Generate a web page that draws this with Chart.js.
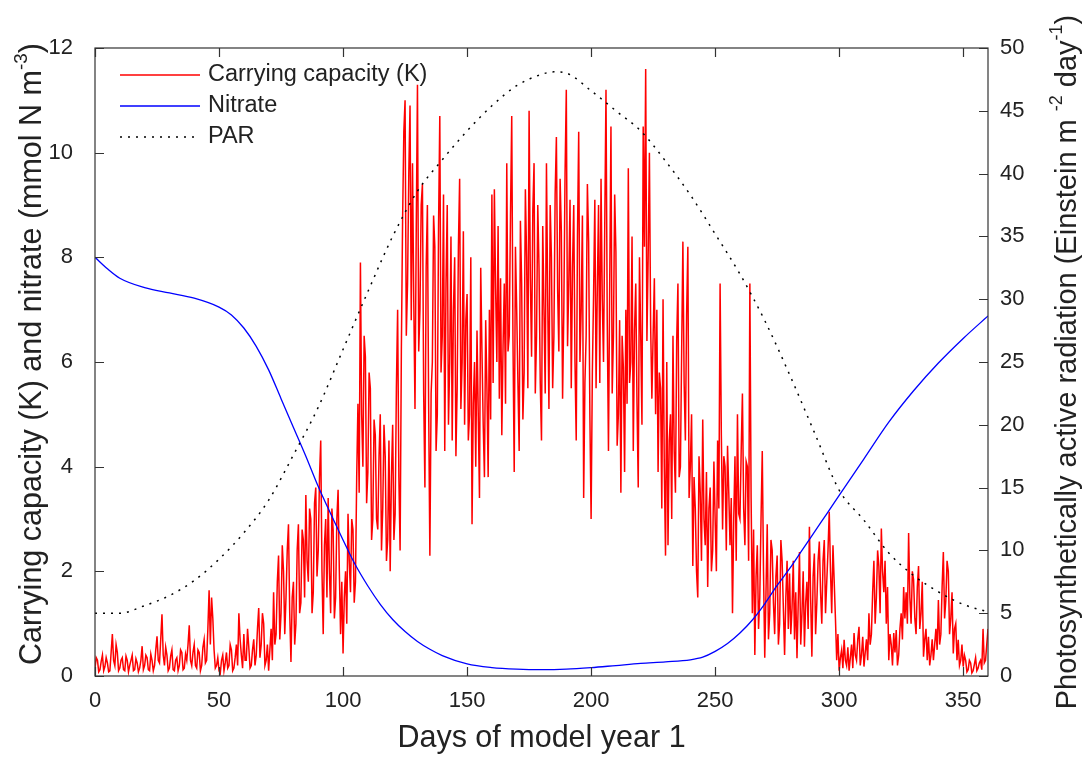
<!DOCTYPE html>
<html>
<head>
<meta charset="utf-8">
<script src="https://cdn.jsdelivr.net/npm/chart.js@4/dist/chart.umd.min.js"></script>
<style>
  html, body { margin:0; padding:0; background:#fff; }
  canvas { display:block; }
</style>
</head>
<body>
<canvas id="c" width="1084" height="757"></canvas>
<script>
'use strict';

// Carrying capacity K (mmol N m-3) at whole days 0..360
const kValues = [
  0.15,0.3,0.12,0.4,0.18,0.25,0.1,0.8,0.2,0.45,0.15,0.35,0.1,0.3,0.2,0.4,0.12,0.25,0.15,0.57,
  0.2,0.35,0.1,0.3,0.2,0.76,0.25,1.18,0.2,0.4,0.15,0.5,0.1,0.35,0.2,0.45,0.15,0.3,0.97,0.2,
  0.6,0.15,0.45,0.2,0.7,0.3,1.64,1.5,0.5,0.2,0.1,0.3,0.1,0.45,0.2,0.5,0.15,0.6,1.2,0.4,
  0.8,0.3,0.55,0.2,0.7,0.4,1.3,0.6,1.0,0.3,0.1,0.9,1.6,0.8,2.3,1.2,2.0,1.5,2.9,0.27,
  1.8,1.0,2.9,1.4,2.6,3.46,1.8,3.0,1.6,3.6,2.4,4.5,0.8,3.0,3.4,1.2,2.8,1.5,3.56,0.8,
  0.43,2.0,3.1,1.6,2.8,1.8,5.2,7.9,4.0,6.1,3.9,5.5,3.0,4.6,2.8,5.0,3.2,4.2,2.6,2.0,
  4.8,3.1,7.0,2.4,8.7,11.0,7.5,10.9,9.8,5.1,11.3,7.0,9.4,3.6,9.0,2.3,6.0,8.2,5.0,10.7,
  6.5,4.3,9.0,6.0,4.5,8.0,5.5,9.5,6.0,4.8,7.3,5.0,2.9,6.0,6.6,3.4,6.2,3.8,5.5,7.0,
  9.2,9.3,6.0,5.3,4.6,7.5,9.8,6.5,10.7,3.9,7.0,4.3,7.5,5.8,8.0,10.8,6.1,9.8,6.5,7.8,
  4.5,7.0,9.8,5.1,8.0,6.5,10.3,6.2,8.5,7.0,11.2,7.5,5.5,9.0,4.5,10.4,7.0,3.4,6.5,8.3,
  3.0,7.3,5.5,9.0,9.5,6.0,11.2,4.3,10.5,6.5,8.1,5.0,3.5,5.9,7.0,9.7,6.0,4.3,7.5,3.6,
  6.5,10.5,11.6,8.0,6.7,6.5,5.0,3.9,5.5,7.2,2.3,2.5,5.0,6.5,3.5,7.5,4.0,8.3,4.5,8.2,
  4.0,2.1,3.2,1.5,3.5,4.9,2.5,1.7,3.6,2.4,3.0,4.5,7.5,2.8,4.0,4.4,2.5,1.2,4.2,5.0,
  3.0,5.4,2.5,4.0,7.5,1.2,0.4,2.5,1.5,4.3,0.35,2.9,1.2,2.4,0.8,2.3,1.0,2.2,0.4,2.2,
  1.96,1.3,0.7,0.34,2.37,1.2,0.56,1.8,2.85,0.37,2.34,1.4,2.57,1.0,2.6,1.8,3.14,1.2,1.8,0.3,
  0.1,0.5,0.69,0.2,0.1,0.6,0.82,0.3,0.94,0.4,0.18,0.7,1.2,0.8,2.2,1.5,2.1,2.82,1.6,1.0,
  0.3,0.6,0.82,0.88,0.4,1.2,1.7,1.6,2.73,1.0,1.84,0.8,2.1,1.2,0.37,0.9,0.75,0.4,0.3,0.9,
  1.45,0.8,2.37,1.45,2.0,1.1,0.43,1.0,0.69,0.3,0.18,0.3,0.12,0.25,0.1,0.35,0.15,0.3,0.9,0.3,
  0.9
];
// K at half days 0.5..359.5
const kHalfValues = [
  0.35,0.08,0.28,0.1,0.35,0.08,0.45,0.3,0.6,0.1,0.3,0.12,0.38,0.08,0.3,0.1,0.33,0.08,0.3,0.12,
  0.4,0.12,0.42,0.1,0.5,0.3,0.7,0.4,0.55,0.1,0.38,0.12,0.3,0.1,0.5,0.12,0.42,0.6,0.3,0.45,
  0.2,0.5,0.1,0.55,0.25,0.9,0.6,1.1,0.15,0.35,0.05,0.4,0.25,0.15,0.6,0.1,0.35,0.2,0.7,0.15,
  0.3,0.9,0.15,0.5,0.2,0.9,0.35,1.2,0.2,0.6,0.5,0.3,0.6,1.8,0.7,2.5,0.8,2.4,1.2,1.5,
  0.6,2.4,1.2,2.8,1.5,2.2,3.2,1.2,3.3,1.9,3.8,2.0,2.5,1.5,2.0,3.2,1.1,3.0,2.0,1.8,
  1.5,1.0,2.2,3.0,1.4,3.8,3.5,5.0,6.5,3.3,5.8,2.6,4.9,3.0,4.2,2.4,4.8,2.2,4.5,3.8,
  2.6,5.5,3.8,6.2,10.4,6.5,9.6,6.8,7.2,8.5,6.2,9.0,5.4,7.8,5.2,5.4,8.8,4.3,8.6,5.8,
  9.2,7.5,4.8,8.4,7.0,4.2,8.2,5.1,8.5,6.8,4.5,8.0,5.2,4.0,5.0,7.8,4.8,6.8,3.8,4.9,
  5.6,7.4,8.6,7.6,6.3,5.2,6.2,8.8,6.4,8.2,5.6,8.7,4.9,9.3,5.5,7.6,8.9,5.4,9.0,5.6,
  8.6,5.4,7.2,9.0,5.5,9.2,7.4,9.5,5.3,9.6,6.3,9.1,7.8,6.0,8.4,6.0,8.8,5.6,9.4,5.0,
  5.8,9.1,7.4,5.6,7.2,8.6,6.8,7.5,5.4,9.2,4.4,6.8,6.5,3.9,5.2,5.6,8.4,6.6,5.2,8.0,
  4.8,8.2,6.4,10.0,5.3,7.6,7.0,5.8,3.2,4.0,6.0,4.5,3.0,4.3,6.4,3.8,6.2,5.6,6.9,3.4,
  5.0,3.8,2.0,4.2,2.2,3.0,3.9,3.2,2.0,4.1,2.0,3.2,4.6,4.2,2.4,3.5,3.4,3.0,2.2,3.1,
  4.3,3.2,4.1,2.2,3.4,2.8,1.9,0.9,3.0,2.0,1.6,0.7,2.6,1.4,1.9,0.6,2.6,1.3,1.5,0.9,
  0.8,2.2,1.6,1.4,0.6,2.0,1.4,0.9,1.5,1.9,0.8,2.2,1.6,2.2,1.2,2.4,2.0,2.5,1.1,0.8,
  0.35,0.15,0.3,0.55,0.35,0.15,0.4,0.7,0.2,0.75,0.45,0.3,0.6,1.6,1.0,2.4,1.2,2.0,2.2,1.7,
  0.8,0.2,0.45,0.2,0.9,0.7,1.1,1.0,1.5,2.0,1.1,1.7,0.9,1.8,0.7,0.3,0.2,0.7,0.6,0.5,
  0.6,1.7,1.1,2.2,0.8,1.6,0.9,0.3,0.2,0.6,0.4,0.08,0.3,0.06,0.22,0.1,0.25,0.12,0.25,0.6
];

// Nitrate (mmol N m-3)
const nitrateDays   = [0,5,10,20,30,40,50,55,60,65,70,75,80,85,90,95,100,105,110,115,120,125,130,135,140,150,160,170,180,190,200,210,220,230,240,245,250,255,260,265,270,275,280,285,290,295,300,310,320,330,340,350,360];
const nitrateValues = [8.0,7.78,7.6,7.42,7.32,7.22,7.05,6.9,6.65,6.3,5.85,5.3,4.75,4.2,3.62,3.1,2.6,2.12,1.72,1.37,1.08,0.85,0.66,0.51,0.39,0.23,0.16,0.13,0.12,0.13,0.16,0.2,0.24,0.27,0.31,0.36,0.47,0.62,0.82,1.07,1.38,1.73,2.05,2.4,2.75,3.1,3.45,4.15,4.85,5.45,5.98,6.45,6.88];

// PAR (Einstein m-2 day-1)
const parDays   = [0,10,20,30,40,50,60,70,80,90,100,110,120,130,140,150,160,170,180,185,190,200,210,220,230,240,250,260,270,280,290,300,310,320,330,340,350,360];
const parValues = [5.0,5.0,5.6,6.4,7.6,9.3,11.4,14.0,17.6,21.4,26.0,30.6,35.0,38.6,41.1,43.4,45.4,47.0,47.9,48.1,48.0,46.6,45.0,43.4,41.0,38.3,35.2,32.0,28.3,24.0,19.4,14.8,12.4,9.8,8.0,6.7,5.7,5.1];

const xTicks = [0,50,100,150,200,250,300,350];
const legendLabels = ['Carrying capacity (K)', 'Nitrate', 'PAR'];

const FONT = '"Liberation Sans", Arial, Helvetica, sans-serif';
const INK = '#222';
const pts = (xs, ys) => xs.map((x, i) => ({ x, y: ys[i] }));

// whole days and half days merged in time order
const kPoints = [];
kValues.forEach((v, i) => {
  kPoints.push({ x: i, y: v });
  if (i < kHalfValues.length) kPoints.push({ x: i + 0.5, y: kHalfValues[i] });
});

// one line of text with superscripts, centred at (cx, cy)
function richText(ctx, parts, cx, cy, rot, size) {
  ctx.save();
  ctx.translate(cx, cy);
  ctx.rotate(rot);
  ctx.textBaseline = 'middle';
  ctx.textAlign = 'left';
  ctx.fillStyle = INK;
  const sub = size * 0.62;
  let total = 0;
  parts.forEach(p => { ctx.font = `${p.sup ? sub : size}px ${FONT}`; total += ctx.measureText(p.t).width; });
  let x = -total / 2;
  parts.forEach(p => {
    ctx.font = `${p.sup ? sub : size}px ${FONT}`;
    ctx.fillText(p.t, x, p.sup ? -size * 0.38 : 0);
    x += ctx.measureText(p.t).width;
  });
  ctx.restore();
}

const decor = {
  id: 'decor',
  afterDatasetsDraw(chart) {
    const { ctx, chartArea: a, scales } = chart;
    ctx.save();
    ctx.strokeStyle = '#333';
    ctx.lineWidth = 1.2;
    ctx.strokeRect(a.left, a.top, a.right - a.left, a.bottom - a.top);
    const L = 9;
    ctx.beginPath();
    scales.x.ticks.forEach(t => {
      const p = Math.round(scales.x.getPixelForValue(t.value)) + 0.5;
      ctx.moveTo(p, a.bottom); ctx.lineTo(p, a.bottom - L);
      ctx.moveTo(p, a.top); ctx.lineTo(p, a.top + L);
    });
    scales.y.ticks.forEach(t => {
      const p = Math.round(scales.y.getPixelForValue(t.value)) + 0.5;
      ctx.moveTo(a.left, p); ctx.lineTo(a.left + L, p);
    });
    scales.y2.ticks.forEach(t => {
      const p = Math.round(scales.y2.getPixelForValue(t.value)) + 0.5;
      ctx.moveTo(a.right, p); ctx.lineTo(a.right - L, p);
    });
    ctx.stroke();

    // legend
    const rows = [
      { c:'#ff0000', dash:[], y:75 },
      { c:'#0000ff', dash:[], y:106 },
      { c:'#000000', dash:[2,6], y:137 },
    ];
    ctx.font = `23.5px ${FONT}`;
    ctx.textBaseline = 'middle';
    ctx.fillStyle = INK;
    rows.forEach((r, i) => {
      ctx.beginPath();
      ctx.strokeStyle = r.c;
      ctx.lineWidth = 1.3;
      ctx.setLineDash(r.dash);
      ctx.moveTo(120, r.y); ctx.lineTo(200, r.y);
      ctx.stroke();
      ctx.setLineDash([]);
      ctx.fillText(legendLabels[i], 208, r.y);
    });
    ctx.restore();

    richText(ctx, [
      { t:'Carrying capacity (K) and nitrate (mmol N m' }, { t:'-3', sup:true }, { t:')' }
    ], 33, 354, -Math.PI / 2, 30.5);
    richText(ctx, [
      { t:'Photosynthetically active radiation (Einstein m ' }, { t:'-2', sup:true },
      { t:' day' }, { t:'-1', sup:true }, { t:')' }
    ], 1068, 362, -Math.PI / 2, 29);
  }
};

const tickFont = { family: FONT, size: 22 };

new Chart(document.getElementById('c'), {
  type: 'line',
  data: {
    datasets: [
      { label: legendLabels[0], data: kPoints, yAxisID: 'y', borderColor: '#ff0000',
        borderWidth: 1.5, pointRadius: 0, tension: 0, order: 3 },
      { label: legendLabels[1], data: pts(nitrateDays, nitrateValues), yAxisID: 'y', borderColor: '#0000ff',
        borderWidth: 1.3, pointRadius: 0, cubicInterpolationMode: 'monotone', order: 2 },
      { label: legendLabels[2], data: pts(parDays, parValues), yAxisID: 'y2', borderColor: '#000000',
        borderWidth: 1.5, borderDash: [2, 6], pointRadius: 0, cubicInterpolationMode: 'monotone', order: 1 },
    ]
  },
  options: {
    responsive: false,
    animation: false,
    layout: { padding: { top: 48, left: 0, right: 0, bottom: 0 } },
    plugins: { legend: { display: false }, tooltip: { enabled: false } },
    scales: {
      x: {
        type: 'linear', position: 'bottom', min: 0, max: 360,
        afterBuildTicks: s => { s.ticks = xTicks.map(v => ({ value: v })); },
        ticks: { color: INK, font: tickFont, padding: 12, maxRotation: 0 },
        grid: { display: false, drawTicks: false },
        border: { display: false },
        title: { display: true, text: 'Days of model year 1', color: INK,
                 font: { family: FONT, size: 30.5 }, padding: { top: 0, bottom: 0 } },
        afterFit: s => { s.height = 81; }
      },
      y: {
        type: 'linear', position: 'left', min: 0, max: 12,
        ticks: { stepSize: 2, color: INK, font: tickFont, padding: 22 },
        grid: { display: false, drawTicks: false },
        border: { display: false },
        afterFit: s => { s.width = 95; }
      },
      y2: {
        type: 'linear', position: 'right', min: 0, max: 50,
        ticks: { stepSize: 5, color: INK, font: tickFont, padding: 12 },
        grid: { display: false, drawTicks: false },
        border: { display: false },
        afterFit: s => { s.width = 96; }
      }
    }
  },
  plugins: [decor]
});
</script>
</body>
</html>
